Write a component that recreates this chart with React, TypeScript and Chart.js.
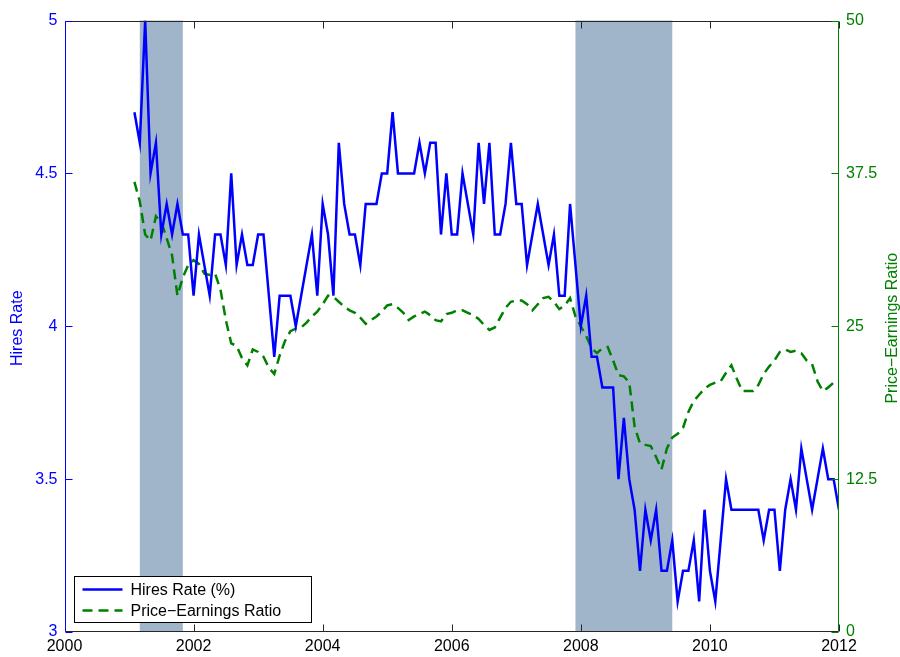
import React, { useEffect, useRef } from 'react';
import { Chart, registerables } from 'chart.js';

Chart.register(...registerables);

// ---- data ----
const START_MONTH = '2001-02';

const HIRES_RATE = [
  4.7, 4.6, 5.0, 4.5, 4.6, 4.3, 4.4, 4.3, 4.4, 4.3, 4.3, 4.1,
  4.3, 4.2, 4.1, 4.3, 4.3, 4.2, 4.5, 4.2, 4.3, 4.2, 4.2, 4.3,
  4.3, 4.1, 3.9, 4.1, 4.1, 4.1, 4.0, 4.1, 4.2, 4.3, 4.1, 4.4,
  4.3, 4.1, 4.6, 4.4, 4.3, 4.3, 4.2, 4.4, 4.4, 4.4, 4.5, 4.5,
  4.7, 4.5, 4.5, 4.5, 4.5, 4.6, 4.5, 4.6, 4.6, 4.3, 4.5, 4.3,
  4.3, 4.5, 4.4, 4.3, 4.6, 4.4, 4.6, 4.3, 4.3, 4.4, 4.6, 4.4,
  4.4, 4.2, 4.3, 4.4, 4.3, 4.2, 4.3, 4.1, 4.1, 4.4, 4.2, 4.0,
  4.1, 3.9, 3.9, 3.8, 3.8, 3.8, 3.5, 3.7, 3.5, 3.4, 3.2, 3.4,
  3.3, 3.4, 3.2, 3.2, 3.3, 3.1, 3.2, 3.2, 3.3, 3.1, 3.4, 3.2,
  3.1, 3.3, 3.5, 3.4, 3.4, 3.4, 3.4, 3.4, 3.4, 3.3, 3.4, 3.4,
  3.2, 3.4, 3.5, 3.4, 3.6, 3.5, 3.4, 3.5, 3.6, 3.5, 3.5, 3.4,
];

const PE_RATIO = [
  36.8, 35.2, 32.5, 32.0, 34.0, 33.5, 32.2, 30.8, 27.5, 29.0, 30.0, 30.4,
  30.1, 29.3, 29.2, 29.3, 28.0, 25.5, 23.6, 23.4, 22.4, 21.8, 23.1, 22.9,
  22.5, 21.6, 21.1, 22.6, 23.8, 24.6, 24.8, 24.9, 25.3, 25.8, 26.2, 26.8,
  27.5, 27.4, 27.0, 26.6, 26.3, 26.1, 25.7, 25.2, 25.5, 25.8, 26.2, 26.7,
  26.8, 26.5, 26.1, 25.5, 25.8, 26.0, 26.2, 25.9, 25.5, 25.4, 26.0, 26.1,
  26.3, 26.3, 26.1, 25.9, 25.6, 25.1, 24.7, 24.9, 25.7, 26.5, 27.0, 27.1,
  27.1, 26.8, 26.3, 26.8, 27.3, 27.4, 27.0, 26.4, 26.7, 27.3, 25.8, 25.0,
  24.2, 23.2, 22.8, 23.2, 23.3, 22.2, 21.0, 20.9, 20.4, 16.8, 15.4, 15.3,
  15.2, 14.3, 13.3, 15.0, 15.9, 16.2, 16.7, 18.0, 18.9, 19.4, 19.9, 20.2,
  20.4, 20.5, 21.2, 21.8, 20.7, 19.7, 19.7, 19.7, 20.2, 21.1, 21.7, 22.2,
  22.9, 23.1, 22.9, 23.0, 22.8, 22.2, 21.9, 20.5, 19.7, 20.0, 20.4, 20.6,
];

const X_TICKS = [2000, 2002, 2004, 2006, 2008, 2010, 2012];
const LEFT_TICKS = [3, 3.5, 4, 4.5, 5];
const RIGHT_TICKS = [0, 12.5, 25, 37.5, 50];

const RECESSION_STARTS = ['2001-03', '2007-12'];
const RECESSION_ENDS = ['2001-11', '2009-06'];

const SERIES_LABELS = ['Hires Rate (%)', 'Price\u2212Earnings Ratio'];
const LEFT_TITLE = 'Hires Rate';
const RIGHT_TITLE = 'Price\u2212Earnings Ratio';

// ---- styles ----
const BLUE = '#0000ff';
const GREEN = '#008000';
const SHADE = '#a1b5ca';
const FONT = "'Liberation Sans', Arial, sans-serif";
const FONT_SIZE = 16;
const DASH = [10, 6];
const TICK_LEN = 7;

function monthToYear(s: string): number {
  const [y, m] = s.split('-').map(Number);
  return y + (m - 1) / 12;
}

const START = monthToYear(START_MONTH);

const overlayPlugin = {
  id: 'overlay',
  beforeDatasetsDraw(chart: any) {
    const { ctx, chartArea: a, scales } = chart;
    ctx.save();
    ctx.fillStyle = SHADE;
    RECESSION_STARTS.forEach((s, i) => {
      const x1 = scales.x.getPixelForValue(monthToYear(s));
      const x2 = scales.x.getPixelForValue(monthToYear(RECESSION_ENDS[i]));
      ctx.fillRect(x1, a.top, x2 - x1, a.bottom - a.top);
    });
    ctx.restore();
  },
  afterDraw(chart: any) {
    const { ctx, chartArea: a, scales } = chart;
    const L = Math.round(a.left) + 0.5;
    const R = Math.round(a.right) - 0.5;
    const T = Math.round(a.top) + 0.5;
    const B = Math.round(a.bottom) - 0.5;
    ctx.save();
    ctx.lineWidth = 1;
    const seg = (x1: number, y1: number, x2: number, y2: number) => {
      ctx.beginPath();
      ctx.moveTo(x1, y1);
      ctx.lineTo(x2, y2);
      ctx.stroke();
    };
    // top / bottom borders and x ticks
    ctx.strokeStyle = '#262626';
    seg(L, T, R, T);
    seg(L, B, R, B);
    X_TICKS.forEach((v) => {
      const px = Math.round(scales.x.getPixelForValue(v)) + 0.5;
      seg(px, B, px, B - TICK_LEN);
      seg(px, T, px, T + TICK_LEN);
    });
    // left axis
    ctx.strokeStyle = BLUE;
    seg(L, T, L, B);
    LEFT_TICKS.forEach((v) => {
      const py = Math.round(scales.y.getPixelForValue(v)) + 0.5;
      seg(L, py, L + TICK_LEN, py);
    });
    // right axis
    ctx.strokeStyle = GREEN;
    seg(R, T, R, B);
    RIGHT_TICKS.forEach((v) => {
      const py = Math.round(scales.y1.getPixelForValue(v)) + 0.5;
      seg(R, py, R - TICK_LEN, py);
    });

    // axis titles
    ctx.font = `${FONT_SIZE}px ${FONT}`;
    ctx.textAlign = 'center';
    ctx.textBaseline = 'middle';
    const cy = (a.top + a.bottom) / 2;
    ctx.fillStyle = BLUE;
    ctx.save();
    ctx.translate(18, cy + 2);
    ctx.rotate(-Math.PI / 2);
    ctx.fillText(LEFT_TITLE, 0, 0);
    ctx.restore();
    ctx.fillStyle = GREEN;
    ctx.save();
    ctx.translate(893, cy + 2);
    ctx.rotate(-Math.PI / 2);
    ctx.fillText(RIGHT_TITLE, 0, 0);
    ctx.restore();

    // legend
    const bx = Math.round(a.left + 9) + 0.5;
    const by = Math.round(a.bottom - 56) + 0.5;
    const bw = 237;
    const bh = 46;
    ctx.fillStyle = '#ffffff';
    ctx.fillRect(bx, by, bw, bh);
    ctx.strokeStyle = '#000000';
    ctx.lineWidth = 1;
    ctx.strokeRect(bx, by, bw, bh);
    const datasets = chart.data.datasets;
    const rows = [by + 13, by + 34];
    rows.forEach((ry, i) => {
      const ds = datasets[i];
      ctx.strokeStyle = ds.borderColor;
      ctx.lineWidth = ds.borderWidth;
      ctx.setLineDash(ds.borderDash || []);
      seg(bx + 8, ry, bx + 48, ry);
      ctx.setLineDash([]);
      ctx.fillStyle = '#000000';
      ctx.textAlign = 'left';
      ctx.textBaseline = 'middle';
      ctx.fillText(ds.label, bx + 56, ry + 1);
    });
    ctx.restore();
  },
};

export default function App() {
  const canvasRef = useRef<HTMLCanvasElement | null>(null);

  useEffect(() => {
    const canvas = canvasRef.current;
    if (!canvas) return;
    const xs = HIRES_RATE.map((_, i) => START + i / 12);

    const chart = new Chart(canvas, {
      type: 'line',
      data: {
        datasets: [
          {
            label: SERIES_LABELS[0],
            data: HIRES_RATE.map((v, i) => ({ x: xs[i], y: v })),
            borderColor: BLUE,
            borderWidth: 2.5,
            pointRadius: 0,
            tension: 0,
            yAxisID: 'y',
            order: 1,
          },
          {
            label: SERIES_LABELS[1],
            data: PE_RATIO.map((v, i) => ({ x: xs[i], y: v })),
            borderColor: GREEN,
            borderWidth: 2.5,
            borderDash: DASH,
            pointRadius: 0,
            tension: 0,
            yAxisID: 'y1',
            order: 2,
          },
        ],
      },
      options: {
        responsive: false,
        animation: false,
        events: [],
        layout: { padding: { top: 20.5, left: 0, right: 0, bottom: 0 } },
        plugins: {
          legend: { display: false },
          tooltip: { enabled: false },
        },
        scales: {
          x: {
            type: 'linear',
            position: 'bottom',
            min: 2000,
            max: 2012,
            afterBuildTicks: (s: any) => {
              s.ticks = X_TICKS.map((v) => ({ value: v }));
            },
            afterFit: (s: any) => {
              s.height = 25;
            },
            ticks: {
              color: '#000000',
              font: { family: FONT, size: FONT_SIZE },
              padding: 5,
              maxRotation: 0,
              autoSkip: false,
              callback: (v: any) => String(v),
            },
            grid: { display: false, drawTicks: false },
            border: { display: false },
          },
          y: {
            type: 'linear',
            position: 'left',
            min: 3,
            max: 5,
            afterBuildTicks: (s: any) => {
              s.ticks = LEFT_TICKS.map((v) => ({ value: v }));
            },
            afterFit: (s: any) => {
              s.width = 64.5;
            },
            ticks: {
              color: BLUE,
              font: { family: FONT, size: FONT_SIZE },
              padding: 7,
              autoSkip: false,
              callback: (v: any) => String(v),
            },
            grid: { display: false, drawTicks: false },
            border: { display: false },
          },
          y1: {
            type: 'linear',
            position: 'right',
            min: 0,
            max: 50,
            afterBuildTicks: (s: any) => {
              s.ticks = RIGHT_TICKS.map((v) => ({ value: v }));
            },
            afterFit: (s: any) => {
              s.width = 61;
            },
            ticks: {
              color: GREEN,
              font: { family: FONT, size: FONT_SIZE },
              padding: 7,
              autoSkip: false,
              callback: (v: any) => String(v),
            },
            grid: { display: false, drawTicks: false },
            border: { display: false },
          },
        },
      },
      plugins: [overlayPlugin],
    } as any);

    return () => {
      chart.destroy();
    };
  }, []);

  return (
    <div style={{ position: 'absolute', left: 0, top: 0, width: 900, height: 657, background: '#ffffff' }}>
      <canvas ref={canvasRef} width={900} height={657} style={{ display: 'block' }} />
    </div>
  );
}
